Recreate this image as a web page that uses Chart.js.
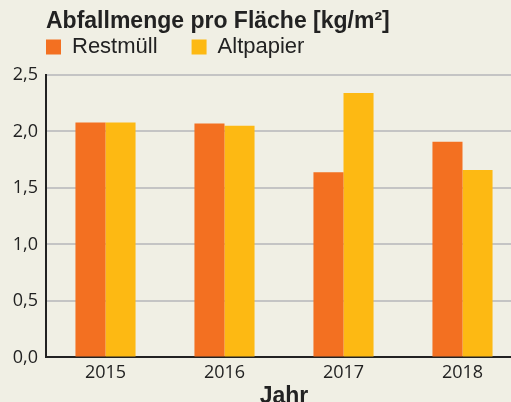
<!DOCTYPE html>
<html>
<head>
<meta charset="utf-8">
<script src="https://cdn.jsdelivr.net/npm/chart.js@4/dist/chart.umd.min.js"></script>
<style>
  html, body { margin: 0; padding: 0; background: #f0efe4; overflow: hidden; width: 511px; height: 402px; }
  canvas { display: block; }
</style>
</head>
<body>
<canvas id="c" width="522" height="414"></canvas>
<script>
const titleText = 'Abfallmenge pro Fläche [kg/m²]';
const xAxisTitle = 'Jahr';
const categories = ['2015', '2016', '2017', '2018'];
const seriesNames = ['Restmüll', 'Altpapier'];
const restmuell = [2.08, 2.07, 1.64, 1.91];
const altpapier = [2.08, 2.05, 2.34, 1.66];
const yTickValues = [0, 0.5, 1.0, 1.5, 2.0, 2.5];
const yTickLabels = ['0,0', '0,5', '1,0', '1,5', '2,0', '2,5'];
const colors = ['#f37021', '#fdb913'];

const titlePlugin = {
  id: 'topTitle',
  afterDraw(chart) {
    const ctx = chart.ctx;
    ctx.save();
    ctx.font = 'bold 23px "Liberation Sans", Arial, sans-serif';
    ctx.fillStyle = '#222222';
    ctx.textBaseline = 'alphabetic';
    ctx.textAlign = 'left';
    ctx.fillText(titleText, chart.chartArea.left, 28);
    ctx.restore();
  }
};

const legendFitPlugin = {
  id: 'legendFit',
  beforeInit(chart) {
    const orig = chart.legend.fit;
    chart.legend.fit = function () {
      orig.call(this);
      this.height = 73;
    };
  }
};

new Chart(document.getElementById('c'), {
  type: 'bar',
  data: {
    labels: categories,
    datasets: [
      { label: seriesNames[0], data: restmuell, backgroundColor: colors[0], borderWidth: 0 },
      { label: seriesNames[1], data: altpapier, backgroundColor: colors[1], borderWidth: 0 }
    ]
  },
  options: {
    responsive: false,
    animation: false,
    devicePixelRatio: 1,
    layout: { padding: { left: 12, top: 2, right: 0, bottom: 0 } },
    datasets: { bar: { categoryPercentage: 0.505, barPercentage: 1.0 } },
    plugins: {
      title: { display: false },
      tooltip: { enabled: false },
      legend: {
        display: true,
        position: 'top',
        align: 'start',
        labels: {
          boxWidth: 15,
          boxHeight: 15,
          padding: 34,
          color: '#222222',
          font: { family: '"Liberation Sans", Arial, sans-serif', size: 22 }
        }
      }
    },
    scales: {
      x: {
        grid: { display: false, drawTicks: false },
        border: { display: true, color: '#222222', width: 2 },
        ticks: {
          color: '#222222',
          padding: 6,
          font: { family: '"Open Sans", sans-serif', size: 18, lineHeight: 1.0 }
        },
        title: {
          display: true,
          text: xAxisTitle,
          color: '#222222',
          padding: { top: -5, bottom: 4 },
          font: { family: '"Liberation Sans", Arial, sans-serif', size: 23, weight: 'bold' }
        }
      },
      y: {
        min: 0,
        max: 2.5,
        afterFit(axis) { axis.width = 34; },
        afterBuildTicks(axis) { axis.ticks = yTickValues.map(v => ({ value: v })); },
        grid: { color: '#c4c4c4', lineWidth: 2, drawTicks: false },
        border: { display: true, color: '#222222', width: 2 },
        ticks: {
          color: '#222222',
          padding: 8,
          font: { family: '"Open Sans", sans-serif', size: 18 },
          callback: (v, i) => yTickLabels[i]
        }
      }
    }
  },
  plugins: [titlePlugin, legendFitPlugin]
});
</script>
</body>
</html>
